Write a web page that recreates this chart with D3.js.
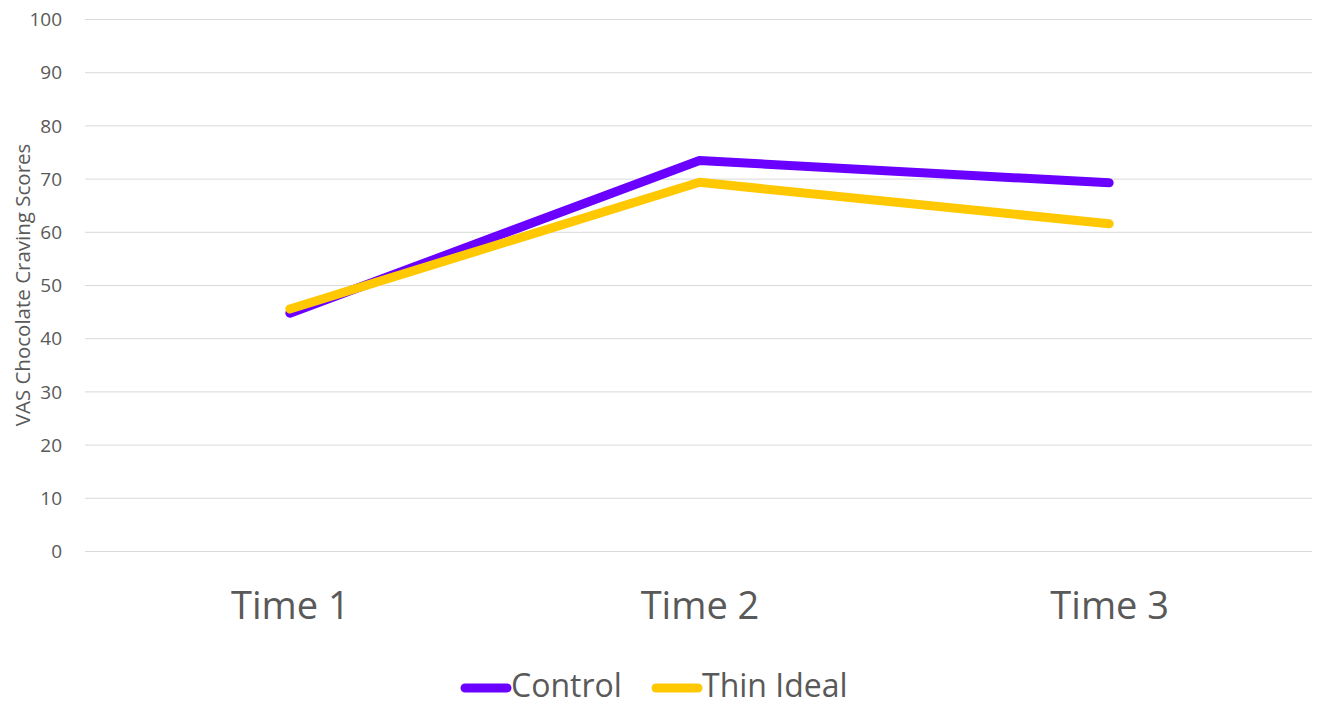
<!DOCTYPE html>
<html>
<head>
<meta charset="utf-8">
<script src="https://cdn.jsdelivr.net/npm/d3@7"></script>
<style>
  body { margin: 0; background: #fff; }
  text { font-family: "Open Sans", sans-serif; fill: #595959; }
</style>
</head>
<body>
<svg id="chart" width="1317" height="707"></svg>
<script>
var categories = ["Time 1", "Time 2", "Time 3"];
var control = [44.7, 73.4, 69.2];
var thinIdeal = [45.5, 69.3, 61.5];
var yTicks = [0, 10, 20, 30, 40, 50, 60, 70, 80, 90, 100];

var series = [
  {name: "Control", values: control, color: "#6A00FF"},
  {name: "Thin Ideal", values: thinIdeal, color: "#FFC800"}
];

var margin = {top: 19, left: 85, right: 3};
var width = 1317, plotBottom = 551;

var svg = d3.select("#chart");

var x = d3.scalePoint()
  .domain(categories)
  .range([margin.left, width - margin.right])
  .padding(0.5);

var y = d3.scaleLinear()
  .domain([0, 100])
  .range([plotBottom, margin.top]);

// gridlines
svg.append("g")
  .selectAll("line")
  .data(yTicks)
  .enter().append("line")
  .attr("x1", margin.left)
  .attr("x2", width - margin.right - 2)
  .attr("y1", function(d) { return y(d) + 0.5; })
  .attr("y2", function(d) { return y(d) + 0.5; })
  .attr("stroke", "#d9d9d9")
  .attr("stroke-width", 1);

// y axis labels
var yAxis = d3.axisLeft(y).tickValues(yTicks).tickSize(0).tickPadding(0);
var gy = svg.append("g")
  .attr("transform", "translate(62,0)")
  .call(yAxis);
gy.select(".domain").remove();
gy.selectAll("text")
  .style("font-family", "'Open Sans', sans-serif")
  .style("font-size", "19px")
  .style("fill", "#595959")
  .attr("dy", "0.35em");

// x axis labels
var xAxis = d3.axisBottom(x).tickSize(0).tickPadding(0);
var gx = svg.append("g")
  .attr("transform", "translate(0," + (plotBottom + 55) + ")")
  .call(xAxis);
gx.select(".domain").remove();
gx.selectAll("text")
  .style("font-family", "'Open Sans', sans-serif")
  .style("font-size", "38px")
  .style("fill", "#595959")
  .attr("dy", "0.35em");

// y title
svg.append("text")
  .attr("transform", "translate(30,285) rotate(-90)")
  .attr("text-anchor", "middle")
  .style("font-size", "20.5px")
  .text("VAS Chocolate Craving Scores");

// lines
var line = d3.line()
  .x(function(d, i) { return x(categories[i]); })
  .y(function(d) { return y(d); });

svg.append("g")
  .selectAll("path")
  .data(series)
  .enter().append("path")
  .attr("d", function(d) { return line(d.values); })
  .attr("fill", "none")
  .attr("stroke", function(d) { return d.color; })
  .attr("stroke-width", 9)
  .attr("stroke-linecap", "round")
  .attr("stroke-linejoin", "round");

// legend
var legendX = [465, 656];
var legend = svg.append("g")
  .selectAll("g")
  .data(series)
  .enter().append("g")
  .attr("transform", function(d, i) { return "translate(" + legendX[i] + ",686)"; });

legend.append("line")
  .attr("x1", 0).attr("x2", 42)
  .attr("y1", 2).attr("y2", 2)
  .attr("stroke", function(d) { return d.color; })
  .attr("stroke-width", 9)
  .attr("stroke-linecap", "round");

legend.append("text")
  .attr("x", 46)
  .attr("dy", "0.35em")
  .style("font-size", "32px")
  .text(function(d) { return d.name; });
</script>
</body>
</html>
